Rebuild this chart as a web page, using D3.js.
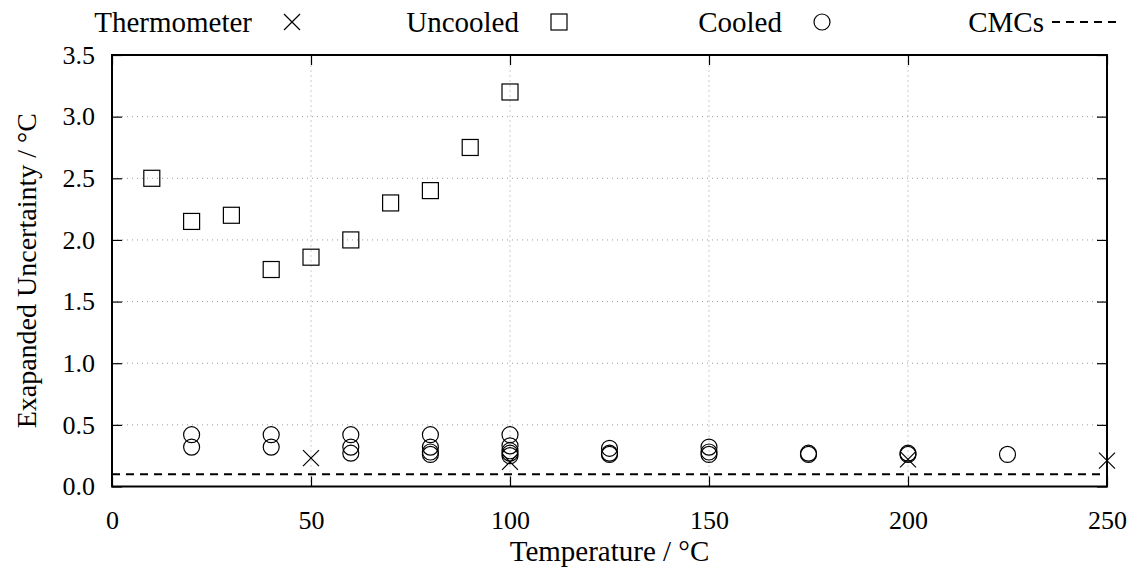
<!DOCTYPE html>
<html>
<head>
<meta charset="utf-8">
<script src="https://cdn.jsdelivr.net/npm/d3@7"></script>
<style>
  html body svg#fig text { font-family: "Liberation Serif", "Times New Roman", serif !important; }
</style>
</head>
<body style="margin:0">
<svg id="fig" width="1130" height="570" style="display:block"></svg>
<script>
// Expanded uncertainty of calibrations against temperature
const xTicks = [0, 50, 100, 150, 200, 250];
const yTicks = [0.0, 0.5, 1.0, 1.5, 2.0, 2.5, 3.0, 3.5];

const thermometerT = [50, 100, 200, 250];
const thermometerU = [0.23, 0.20, 0.22, 0.21];

const uncooledT = [10, 20, 30, 40, 50, 60, 70, 80, 90, 100];
const uncooledU = [2.50, 2.15, 2.20, 1.76, 1.86, 2.00, 2.30, 2.40, 2.75, 3.20];

const cooledT = [20, 20, 40, 40, 60, 60, 60, 80, 80, 80, 80,
                 100, 100, 100, 100, 100, 125, 125, 125, 150, 150, 150,
                 175, 175, 200, 200, 225];
const cooledU = [0.42, 0.32, 0.42, 0.32, 0.42, 0.32, 0.27, 0.42, 0.32, 0.28, 0.26,
                 0.42, 0.33, 0.29, 0.27, 0.25, 0.31, 0.27, 0.26, 0.32, 0.28, 0.26,
                 0.27, 0.26, 0.27, 0.26, 0.26];

const cmcT = [0, 250];
const cmcU = [0.1, 0.1];

const legendLabels = ["Thermometer", "Uncooled", "Cooled", "CMCs"];

const FONT = "Liberation Serif";
const FS_TICK = 26;
const FS_TEXT = 29;

const svg = d3.select("#fig");
const W = 1130, H = 570;
const margin = { left: 112, right: 23, top: 55, bottom: 83.5 };

const x = d3.scaleLinear().domain([0, 250]).range([margin.left, W - margin.right]);
const y = d3.scaleLinear().domain([0, 3.5]).range([H - margin.bottom, margin.top]);

// dotted grid
const grid = svg.append("g");
grid.selectAll("line.gx").data(xTicks.slice(1, -1)).enter().append("line")
  .attr("x1", d => x(d)).attr("x2", d => x(d))
  .attr("y1", y(0)).attr("y2", y(3.5))
  .attr("stroke", "#9a9a9a").attr("stroke-width", 1).attr("stroke-dasharray", "1,4");
grid.selectAll("line.gy").data(yTicks.slice(1, -1)).enter().append("line")
  .attr("y1", d => y(d)).attr("y2", d => y(d))
  .attr("x1", x(0)).attr("x2", x(250))
  .attr("stroke", "#9a9a9a").attr("stroke-width", 1).attr("stroke-dasharray", "1,4");

// axes with inward ticks, mirrored on top and right
const tickLen = 10;
const axB = d3.axisBottom(x).tickValues(xTicks).tickSizeInner(-tickLen).tickSizeOuter(0).tickPadding(24).tickFormat(d3.format("d"));
const axT = d3.axisTop(x).tickValues(xTicks).tickSizeInner(-tickLen).tickSizeOuter(0).tickFormat("");
const axL = d3.axisLeft(y).tickValues(yTicks).tickSizeInner(-tickLen).tickSizeOuter(0).tickPadding(17).tickFormat(d3.format(".1f"));
const axR = d3.axisRight(y).tickValues(yTicks).tickSizeInner(-tickLen).tickSizeOuter(0).tickFormat("");

function styleAxis(g) {
  g.attr("font-family", FONT).attr("font-size", null);
  g.select(".domain").remove();
  g.selectAll(".tick line").attr("stroke", "#000").attr("stroke-width", 1.2);
  g.selectAll("text").style("font-family", FONT).attr("font-size", FS_TICK).attr("fill", "#000");
}
svg.append("g").attr("transform", `translate(0,${y(0)})`).call(axB).call(styleAxis);
svg.append("g").attr("transform", `translate(0,${y(3.5)})`).call(axT).call(styleAxis);
svg.append("g").attr("transform", `translate(${x(0)},0)`).call(axL).call(styleAxis);
svg.append("g").attr("transform", `translate(${x(250)},0)`).call(axR).call(styleAxis);

// CMC line
const line = d3.line().x((d, i) => x(cmcT[i])).y((d, i) => y(cmcU[i]));
svg.append("path").datum(cmcT).attr("d", line)
  .attr("fill", "none").attr("stroke", "#000").attr("stroke-width", 2).attr("stroke-dasharray", "8,6");

// plot border
svg.append("rect").attr("x", x(0)).attr("y", y(3.5))
  .attr("width", x(250) - x(0)).attr("height", y(0) - y(3.5))
  .attr("fill", "none").attr("stroke", "#000").attr("stroke-width", 2);

// markers
const S = 8;
function cross(g, cx, cy) {
  g.append("path").attr("d", `M${cx - S},${cy - S}L${cx + S},${cy + S}M${cx - S},${cy + S}L${cx + S},${cy - S}`)
    .attr("stroke", "#000").attr("stroke-width", 1.2).attr("fill", "none");
}
function square(g, cx, cy) {
  g.append("rect").attr("x", cx - S).attr("y", cy - S).attr("width", 2 * S).attr("height", 2 * S)
    .attr("stroke", "#000").attr("stroke-width", 1.2).attr("fill", "none");
}
function circle(g, cx, cy) {
  g.append("circle").attr("cx", cx).attr("cy", cy).attr("r", S)
    .attr("stroke", "#000").attr("stroke-width", 1.2).attr("fill", "none");
}

const marks = svg.append("g");
uncooledT.forEach((t, i) => square(marks, x(t), y(uncooledU[i])));
cooledT.forEach((t, i) => circle(marks, x(t), y(cooledU[i])));
thermometerT.forEach((t, i) => cross(marks, x(t), y(thermometerU[i])));

// axis titles
svg.append("text").attr("x", (x(0) + x(250)) / 2).attr("y", 561)
  .attr("text-anchor", "middle")
  .style("font-family", FONT).attr("font-size", FS_TEXT)
  .text("Temperature / °C");
svg.append("text").attr("transform", `translate(36,${(y(0) + y(3.5)) / 2}) rotate(-90)`)
  .attr("text-anchor", "middle")
  .style("font-family", FONT).attr("font-size", FS_TEXT - 1)
  .text("Exapanded Uncertainty / °C");

// legend along the top
const legend = svg.append("g");
const legSym = [292, 559, 822, 1084];
const legY = 22;
legendLabels.forEach((lab, i) => {
  legend.append("text").attr("x", legSym[i] - 40).attr("y", legY).attr("dy", "0.35em")
    .attr("text-anchor", "end")
    .style("font-family", FONT).attr("font-size", FS_TEXT)
    .text(lab);
});
cross(legend, legSym[0], legY);
square(legend, legSym[1], legY);
circle(legend, legSym[2], legY);
legend.append("line").attr("x1", legSym[3] - 32).attr("x2", legSym[3] + 32).attr("y1", legY).attr("y2", legY)
  .attr("stroke", "#000").attr("stroke-width", 2).attr("stroke-dasharray", "8,6");
</script>
</body>
</html>
